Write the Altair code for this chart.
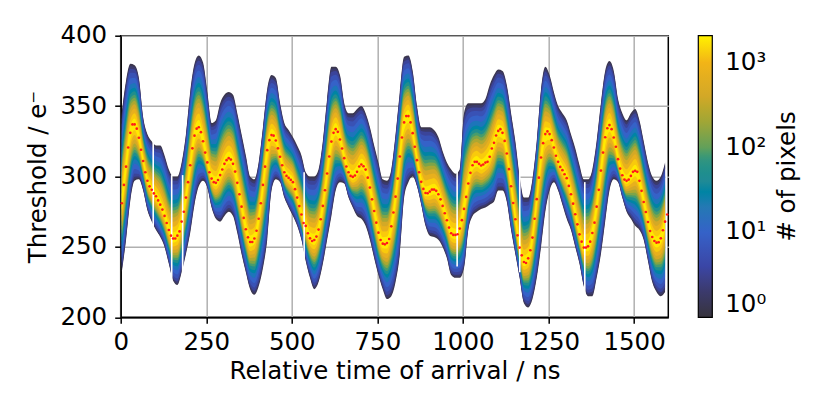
import altair as alt
import numpy as np
import pandas as pd

# ---- data ----
x_first = 3.125          # ns, centre of first median bin
x_step = 6.25            # ns, spacing of median (red dot) bins

# median threshold per time bin (red dots), e-
median_dots = [
    281, 294, 307, 320.6, 331, 337, 337, 334, 327.5, 319,
    311, 303, 297, 293, 290.5, 288, 286, 283, 280, 276.5,
    272, 267, 262, 258, 256, 256, 258, 261, 268, 275,
    285, 296, 308, 320, 329, 334, 335, 331.5, 325, 317,
    310, 303, 298.5, 296, 295.5, 297.5, 301, 305, 309, 311.6,
    313, 312, 309, 303.5, 295.5, 287.4, 278.6, 270.6, 262.5, 256.8,
    253.5, 253.5, 256, 261.5, 270, 281, 294, 307, 318.7, 325.8,
    329.4, 329, 325.6, 320, 314, 308, 303, 300.4, 299, 297.6,
    296, 291, 285, 279, 273, 267, 264.9, 259.7, 256.1, 254.2,
    254.9, 257.3, 262.3, 269.6, 279.1, 290.2, 302.1, 314.2, 324.8, 331,
    333.6, 331.7, 326.3, 319.9, 313, 307.1, 303, 300.4, 299.7, 300.7,
    303.3, 307.1, 308.5, 307.3, 304.9, 299.2, 292.1, 283.8, 275.5, 267.2,
    260.1, 254.9, 252.3, 251.8, 252.8, 255.6, 264.6, 274.4, 285.7, 298.5,
    314.2, 327.7, 338.4, 342.9, 342.9, 338.4, 330.8, 321.1, 311.6, 303,
    296.2, 291.2, 288.3, 288.1, 289.3, 290.7, 290.7, 289.8, 287.4, 283.8,
    279.1, 273.9, 268.9, 263.7, 259.7, 258.5, 258.5, 259, 263, 269,
    277, 285.5, 295, 302.6, 308, 310.4, 310.4, 309, 307.8, 308.5,
    309.9, 310.4, 314, 319.9, 323.9, 329.1, 332.4, 333.6, 331, 325.3,
    316.3, 305.2, 293.1, 281.2, 269.6, 258.2, 249.5, 244, 239.3, 238.6,
    241.9, 247.6, 256.6, 270, 283.9, 299.2, 313.5, 323.7, 330.1, 332,
    330.1, 325.8, 320.6, 314.7, 310.4, 306.8, 304.5, 301.6, 298.8, 293.3,
    287.4, 280.7, 273.2, 266, 258.9, 253.7, 249.5, 249.5, 250.4, 253.7,
    259.9, 267.2, 278.6, 290.5, 304.2, 317, 327.9, 334.3, 336.5, 333.6,
    327.7, 321.1, 312.3, 305.6, 300.9, 297.8, 296.9, 297.8, 300.4, 303.3,
    304, 303.3, 296.9, 289.8, 281.9, 274.8, 267.7, 261.3, 257, 254.2,
    253, 253.3, 256.1, 261.8, 267.9, 273,
]

# upper / lower edge of the populated region, every second median bin
upper_edge = [
    345, 368, 380, 379, 370, 342, 330, 325, 322, 322,
    315, 305, 300, 300, 310, 330, 360, 380, 386, 381,
    360, 338, 340, 352, 358, 360, 358, 345, 330, 315,
    300, 298, 310, 335, 362, 372, 370, 352, 338, 333,
    328, 322, 315, 303, 300, 300, 305, 325, 355, 378,
    378, 372, 352, 345, 345, 348, 350, 345, 335, 322,
    310, 298, 297, 305, 330, 360, 385, 386, 375, 350,
    335, 335, 335, 333, 328, 318, 310, 305, 302, 305,
    345, 352, 352, 352, 352, 355, 365, 372, 376, 375,
    365, 345, 325, 300, 285, 285, 298, 325, 362, 378,
    372, 360, 350, 345, 340, 330, 320, 308, 298, 298,
    305, 325, 352, 375, 382, 375, 355, 345, 340, 345,
    348, 340, 325, 310, 300, 297, 300, 310,
]
lower_edge = [
    232, 255, 283, 297, 298, 290, 276, 268, 262, 257,
    250, 238, 226, 223, 232, 245, 260, 280, 293, 297,
    292, 278, 270, 268, 272, 275, 272, 260, 245, 232,
    220, 216, 222, 235, 255, 290, 298, 296, 285, 278,
    272, 265, 255, 240, 228, 220, 225, 238, 255, 272,
    290, 296, 295, 285, 278, 272, 270, 265, 255, 242,
    230, 220, 213, 215, 225, 245, 285, 296, 300, 293,
    280, 265, 258, 257, 255, 250, 242, 230, 228, 228,
    235, 262, 272, 275, 277, 278, 280, 282, 290, 290,
    282, 262, 245, 228, 210, 207, 213, 228, 250, 275,
    290, 296, 290, 280, 270, 262, 250, 238, 222, 215,
    215, 228, 245, 268, 290, 298, 296, 285, 275, 270,
    265, 262, 255, 240, 225, 218, 215, 218,
]

# empty time bins (white columns)
gap_x = [95, 149, 181, 536, 983, 1166, 1356, 1594]
gap_top = [326, 301, 301, 303, 312, 315, 296, 305]
gap_bottom = [262, 221, 228, 221, 236, 232, 217, 215]

# pixel-count levels drawn as nested bands (fraction of the way from edge to median)
band_fraction = [0.0, 0.03, 0.07, 0.13, 0.21, 0.30, 0.38, 0.44, 0.50, 0.55, 0.60, 0.66, 0.73, 0.81, 0.90]
band_count = [1.3, 2, 3.5, 6, 10, 17, 30, 50, 85, 140, 240, 420, 750, 1300, 1900]

color_domain = [1, 2, 4, 10, 20, 40, 70, 100, 200, 400, 1000, 2080]
color_range = ["#37343d", "#3b3a6c", "#3a46a6", "#3562c8", "#2479b4", "#1f8a96",
               "#309480", "#62a05a", "#a0a636", "#d2a827", "#f2b417", "#fff200"]

x_ticks = [0, 250, 500, 750, 1000, 1250, 1500]
y_ticks = [200, 250, 300, 350, 400]

# ---- tables ----
x_dots = x_first + x_step * np.arange(len(median_dots))
dots_df = pd.DataFrame({"t": x_dots, "thr": median_dots})

m = np.array(median_dots)[::2]
T = np.array(upper_edge, dtype=float)
B = np.array(lower_edge, dtype=float)
xb = x_dots[::2]
rows = []
for j, (f, c) in enumerate(zip(band_fraction, band_count)):
    lo = B + f * (m - B)
    hi = T - f * (T - m)
    for xx, l, h in zip(xb, lo, hi):
        rows.append({"band": j, "t": float(xx), "lo": float(l), "hi": float(h), "count": c})
bands_df = pd.DataFrame(rows)
gaps_df = pd.DataFrame({"t": gap_x, "top": gap_top, "bottom": gap_bottom})

FONT = "DejaVu Sans"
xscale = alt.Scale(domain=[0, 1600], nice=False, zero=False)
yscale = alt.Scale(domain=[200, 400], nice=False, zero=False)
cscale = alt.Scale(type="log", domain=color_domain, range=color_range)

xenc = alt.X("t:Q", scale=xscale,
             axis=alt.Axis(values=x_ticks, title="Relative time of arrival / ns", format="d"))
yenc = alt.Y("lo:Q", scale=yscale,
             axis=alt.Axis(values=y_ticks, title="Threshold / e⁻", format="d"))

legend = alt.Legend(
    title=None, orient="none", legendX=577.6, legendY=0,
    direction="vertical", gradientLength=281.6, gradientThickness=14,
    gradientStrokeColor="black", gradientStrokeWidth=1.2,
    values=[1, 10, 100, 1000],
    labelExpr="datum.value == 1 ? '10⁰' : datum.value == 10 ? '10¹' : datum.value == 100 ? '10²' : '10³'",
    labelFont=FONT, labelFontSize=24.5, labelColor="black", labelOffset=13,
)

base = alt.Chart(bands_df)
layers = []
for j in range(len(band_fraction)):
    layers.append(
        base.transform_filter(alt.datum.band == j)
        .mark_area(interpolate="monotone")
        .encode(x=xenc, y=yenc, y2="hi:Q",
                color=alt.Color("count:Q", scale=cscale, legend=legend))
    )

gaps = alt.Chart(gaps_df).mark_rule(color="white", strokeWidth=1.6).encode(
    x=alt.X("t:Q", scale=xscale), y=alt.Y("top:Q", scale=yscale), y2="bottom:Q")

dots = alt.Chart(dots_df).mark_circle(color="#ff1a1a", size=7, opacity=1).encode(
    x=alt.X("t:Q", scale=xscale), y=alt.Y("thr:Q", scale=yscale))

cbar_title = alt.Chart(pd.DataFrame({"label": ["# of pixels"]})).mark_text(
    angle=270, font=FONT, fontSize=24.5, color="black", align="center", baseline="middle"
).encode(text="label:N", x=alt.value(667.5), y=alt.value(140.8))

chart = alt.layer(*layers, gaps, dots, cbar_title).properties(
    width=547.6, height=281.6,
    padding={"left": 112.7, "top": 27.7, "right": 140, "bottom": 80},
    autosize=alt.AutoSizeParams(type="none"),
).configure_view(
    stroke="black", strokeWidth=1.5
).configure_axis(
    labelFont=FONT, labelFontSize=24.5, labelColor="black",
    titleFont=FONT, titleFontSize=24.5, titleFontWeight="normal", titleColor="black",
    tickColor="black", tickSize=6, tickWidth=1.5,
    domainColor="black", domainWidth=1.5,
    grid=True, gridColor="#b0b0b0", gridWidth=1.5,
    labelFlush=False, zindex=1,
).configure_axisX(
    labelPadding=7, titlePadding=6,
).configure_axisY(
    labelPadding=8, titlePadding=9,
)

chart.save("out.html", embed_options={"renderer": "svg", "actions": False})
